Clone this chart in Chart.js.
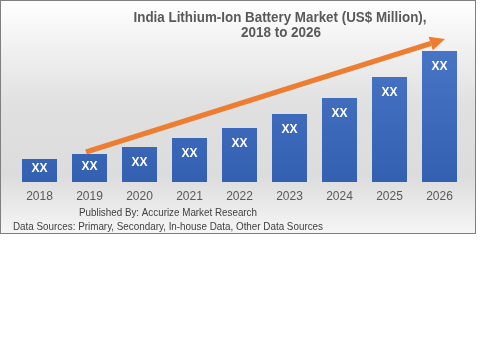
<!DOCTYPE html>
<html>
<head>
<meta charset="utf-8">
<script src="https://cdn.jsdelivr.net/npm/chart.js@4.4.1/dist/chart.umd.min.js"></script>
<style>
  html, body { margin: 0; padding: 0; background: #fff; }
  #wrap { position: absolute; left: 0; top: 0; width: 480px; height: 360px; }
</style>
</head>
<body>
<div id="wrap"><canvas id="chart" width="480" height="360"></canvas></div>
<script>
/* ---------- data ---------- */
const years  = ['2018', '2019', '2020', '2021', '2022', '2023', '2024', '2025', '2026'];
const market = [23, 28, 35, 44, 54, 68, 84, 105, 131];   // US$ Million (shown as XX)
const barLabels = ['XX', 'XX', 'XX', 'XX', 'XX', 'XX', 'XX', 'XX', 'XX'];

const titleLines = ['India Lithium-Ion Battery Market (US$ Million),', '2018 to 2026'];
const publisher  = 'Published By: Accurize Market Research';
const sources    = 'Data Sources: Primary, Secondary, In-house Data, Other Data Sources';

// trend arrow, in (category index, value) terms
const arrowFrom = [0.93, 30];
const arrowTo   = [8.11, 143];

const FONT = "'Liberation Sans', Arial, sans-serif";
const GREY = '#595959';

/* ---------- plugins ---------- */
const frame = {
  id: 'frame',
  beforeDraw(chart) {
    const { ctx } = chart;
    ctx.save();
    const g = ctx.createLinearGradient(0, 0, 0, 234);
    g.addColorStop(0,    '#ffffff');
    g.addColorStop(0.45, '#e0e0e0');
    g.addColorStop(0.75, '#dcdcdc');
    g.addColorStop(1,    '#f6f6f6');
    ctx.fillStyle = g;
    ctx.fillRect(0, 0, 476, 234);
    ctx.strokeStyle = '#7f7f7f';
    ctx.lineWidth = 1;
    ctx.strokeRect(0.5, 0.5, 475, 233);
    ctx.restore();
  },
};

const texts = {
  id: 'texts',
  afterDraw(chart) {
    const { ctx } = chart;
    const x = chart.scales.x, y = chart.scales.y;
    ctx.save();

    // title
    ctx.fillStyle = GREY;
    ctx.textAlign = 'center';
    ctx.textBaseline = 'middle';
    ctx.font = `bold 14px ${FONT}`;
    ctx.fillText(titleLines[0], 280, 18, 293);
    ctx.fillText(titleLines[1], 281, 33, 80);

    // bar value labels
    const meta = chart.getDatasetMeta(0);
    ctx.fillStyle = '#ffffff';
    ctx.font = `bold 12px ${FONT}`;
    meta.data.forEach((bar, i) => {
      const ty = Math.min(bar.y + 16, (bar.y + bar.base) / 2 - 1.5);
      ctx.fillText(barLabels[i], bar.x, ty, 20);
    });

    // arrow
    const x0 = x.getPixelForValue(arrowFrom[0]), y0 = y.getPixelForValue(arrowFrom[1]);
    const x1 = x.getPixelForValue(arrowTo[0]),   y1 = y.getPixelForValue(arrowTo[1]);
    const ang = Math.atan2(y1 - y0, x1 - x0);
    const headLen = 15, headW = 7;
    const bx = x1 - headLen * Math.cos(ang), by = y1 - headLen * Math.sin(ang);
    ctx.strokeStyle = '#ed7d31';
    ctx.fillStyle = '#ed7d31';
    ctx.lineWidth = 5;
    ctx.beginPath();
    ctx.moveTo(x0, y0);
    ctx.lineTo(bx, by);
    ctx.stroke();
    ctx.beginPath();
    ctx.moveTo(x1, y1);
    ctx.lineTo(bx + headW * Math.sin(ang), by - headW * Math.cos(ang));
    ctx.lineTo(bx - headW * Math.sin(ang), by + headW * Math.cos(ang));
    ctx.closePath();
    ctx.fill();

    // footer
    ctx.fillStyle = '#404040';
    ctx.font = `11.5px ${FONT}`;
    ctx.fillText(publisher, 168, 213, 178);
    ctx.font = `11px ${FONT}`;
    ctx.textAlign = 'left';
    ctx.fillText(sources, 13, 227, 310);

    ctx.restore();
  },
};

/* ---------- chart ---------- */
const ctx = document.getElementById('chart').getContext('2d');
const barFill = ctx.createLinearGradient(0, 40, 0, 182);
barFill.addColorStop(0, '#4a76c8');
barFill.addColorStop(1, '#3460b2');

new Chart(ctx, {
  type: 'bar',
  data: {
    labels: years,
    datasets: [{
      label: 'Market',
      data: market,
      backgroundColor: barFill,
      borderWidth: 0,
      barPercentage: 0.7,
      categoryPercentage: 1.0,
    }],
  },
  options: {
    responsive: false,
    animation: false,
    layout: { padding: { left: 14.5, right: 15.5, top: 32, bottom: 0 } },
    plugins: {
      legend:  { display: false },
      tooltip: { enabled: false },
      title:   { display: false },
    },
    scales: {
      x: {
        grid:   { display: false, drawTicks: false },
        border: { display: false },
        ticks:  { color: GREY, font: { family: FONT, size: 12 }, padding: 7, maxRotation: 0 },
        afterFit: s => { s.height = 178; },
      },
      y: {
        display: false,
        min: 0,
        max: 150,
      },
    },
  },
  plugins: [frame, texts],
});
</script>
</body>
</html>
